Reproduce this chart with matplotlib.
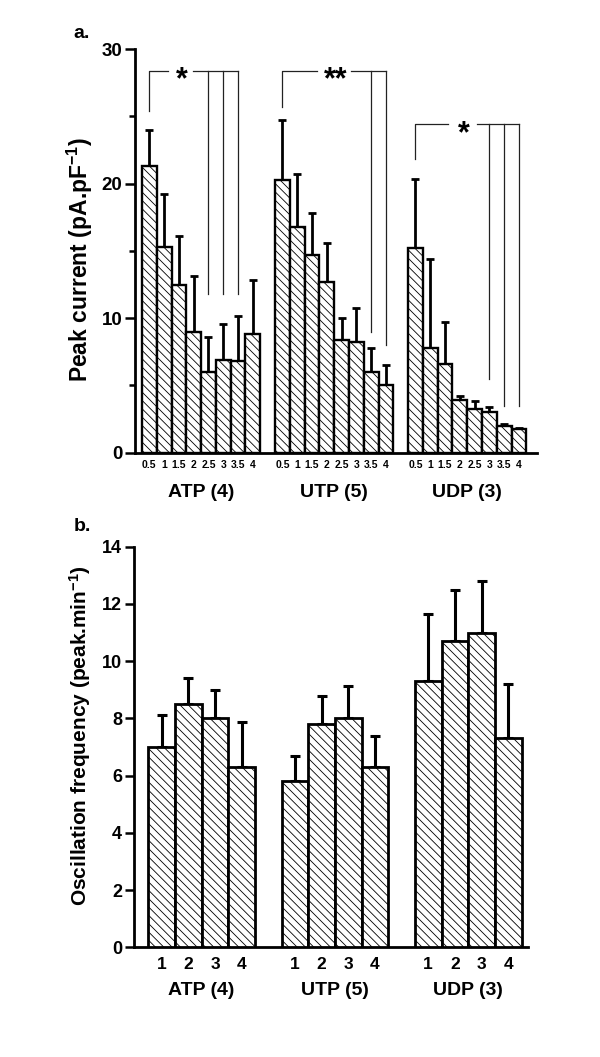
import numpy as np
import matplotlib
matplotlib.use("Agg")
import matplotlib.pyplot as plt

plt.rcParams['font.family'] = ['Liberation Sans', 'DejaVu Sans']
plt.rcParams['font.weight'] = 'bold'
plt.rcParams['hatch.linewidth'] = 0.6
plt.rcParams['mathtext.fontset'] = 'custom'
plt.rcParams['mathtext.rm'] = 'Liberation Sans:bold'
plt.rcParams['mathtext.bf'] = 'Liberation Sans:bold'
plt.rcParams['mathtext.default'] = 'bf'

# donnees
groupes = ["ATP (4)", "UTP (5)", "UDP (3)"]
doses = ["0.5", "1", "1.5", "2", "2.5", "3", "3.5", "4"]
essais = ["1", "2", "3", "4"]

# a. courant de pic (pA/pF)
pic_atp = [21.3, 15.3, 12.5, 9.0, 6.0, 6.9, 6.85, 8.8]
pic_atp_err = [2.7, 3.9, 3.6, 4.1, 2.6, 2.65, 3.3, 4.0]
pic_utp = [20.3, 16.8, 14.7, 12.7, 8.35, 8.2, 6.0, 5.0]
pic_utp_err = [4.45, 3.9, 3.1, 2.9, 1.65, 2.55, 1.8, 1.5]
pic_udp = [15.2, 7.8, 6.6, 3.9, 3.25, 3.0, 1.95, 1.75]
pic_udp_err = [5.15, 6.6, 3.15, 0.3, 0.6, 0.4, 0.2, 0.08]

# b. frequence d'oscillation (pic/min)
freq_atp = [7.0, 8.5, 8.0, 6.3]
freq_atp_err = [1.12, 0.91, 1.0, 1.58]
freq_utp = [5.8, 7.8, 8.0, 6.3]
freq_utp_err = [0.9, 1.0, 1.12, 1.1]
freq_udp = [9.3, 10.7, 11.0, 7.3]
freq_udp_err = [2.35, 1.8, 1.8, 1.9]

# crochets de significativite
sig_barre_ref = [0, 9, 18]
sig_barres = [[4, 5, 6], [15, 16], [23, 24, 25]]
sig_haut = [28.4, 28.4, 24.45]
sig_bas_ref = [25.4, 25.7, 21.8]
sig_bas = [[11.8, 11.8, 11.8], [9.0, 8.0], [5.5, 3.5, 3.5]]
sig_texte = ["*", "**", "*"]
sig_trou = [(1.28, 2.98), (11.35, 13.66), (20.17, 22.16)]

fig = plt.figure(figsize=(6.0, 10.57), dpi=100)

# ---------- panneau a ----------
ax1 = fig.add_axes([0.225, 0.5717, 0.6695, 0.3819])
series_a = [(pic_atp, pic_atp_err), (pic_utp, pic_utp_err), (pic_udp, pic_udp_err)]
pos_tout = []
for g, (vals, errs) in enumerate(series_a):
    x = g * 9 + np.arange(len(vals))
    pos_tout.extend(x)
    ax1.bar(x, vals, width=1.0, color='white', edgecolor='black',
            linewidth=1.7, hatch='\\\\\\\\', zorder=3)
    ax1.errorbar(x, vals, yerr=[np.zeros(len(errs)), errs], fmt='none',
                 ecolor='black', elinewidth=2.0, capsize=2.6, capthick=2.0, zorder=2)
    ax1.annotate(groupes[g], xy=(x.mean(), 0), xycoords=('data', 'axes fraction'),
                 xytext=(0, -28.5), textcoords='offset points',
                 ha='center', va='center', fontsize=14, fontweight='bold')

for k in range(3):
    xr = sig_barre_ref[k]
    t0, t1 = sig_trou[k]
    h = sig_haut[k]
    c = '#222222'
    ax1.plot([xr, xr, t0], [sig_bas_ref[k], h, h], color=c, lw=0.9, clip_on=False, zorder=4)
    ax1.plot([t1, sig_barres[k][-1]], [h, h], color=c, lw=0.9, clip_on=False, zorder=4)
    for xb, yb in zip(sig_barres[k], sig_bas[k]):
        ax1.plot([xb, xb], [yb, h], color=c, lw=0.9, clip_on=False, zorder=4)
    ax1.text((t0 + t1) / 2 + 0.1, h - 0.75, sig_texte[k], ha='center', va='center',
             fontsize=22, fontweight='bold')

ax1.set_xlim(-0.97, 26.2)
ax1.set_ylim(0, 30)
ax1.set_xticks(pos_tout)
ax1.set_xticklabels(doses * 3, fontsize=7.5, fontweight='bold')
ax1.tick_params(axis='x', length=0, pad=5.5)
ax1.set_yticks([0, 10, 20, 30])
ax1.set_yticks([5, 15, 25], minor=True)
ax1.tick_params(axis='y', which='major', length=7, width=1.8, labelsize=13.5, pad=2)
ax1.tick_params(axis='y', which='minor', length=4, width=1.8)
for s in ['top', 'right']:
    ax1.spines[s].set_visible(False)
for s in ['left', 'bottom']:
    ax1.spines[s].set_linewidth(2.0)

# ---------- panneau b ----------
ax2 = fig.add_axes([0.2233, 0.1036, 0.657, 0.3792])
series_b = [(freq_atp, freq_atp_err), (freq_utp, freq_utp_err), (freq_udp, freq_udp_err)]
pos_tout = []
for g, (vals, errs) in enumerate(series_b):
    x = g * 5 + np.arange(len(vals))
    pos_tout.extend(x)
    ax2.bar(x, vals, width=1.0, color='white', edgecolor='black',
            linewidth=2.0, hatch='\\\\\\\\', zorder=3)
    ax2.errorbar(x, vals, yerr=[np.zeros(len(errs)), errs], fmt='none',
                 ecolor='black', elinewidth=2.2, capsize=3.6, capthick=2.2, zorder=2)
    ax2.annotate(groupes[g], xy=(x.mean(), 0), xycoords=('data', 'axes fraction'),
                 xytext=(0, -31), textcoords='offset points',
                 ha='center', va='center', fontsize=14, fontweight='bold')

ax2.set_xlim(-1.04, 13.75)
ax2.set_ylim(0, 14)
ax2.set_xticks(pos_tout)
ax2.set_xticklabels(essais * 3, fontsize=12.5, fontweight='bold')
ax2.tick_params(axis='x', length=0, pad=7)
ax2.set_yticks(np.arange(0, 15, 2))
ax2.tick_params(axis='y', length=6.5, width=1.8, labelsize=13, pad=2)
for s in ['top', 'right']:
    ax2.spines[s].set_visible(False)
for s in ['left', 'bottom']:
    ax2.spines[s].set_linewidth(2.0)

# titres des axes et lettres
fig.text(80 / 600, 1 - 260 / 1057, "Peak current (pA.pF$^{-1}$)", rotation=90,
         ha='center', va='center', fontsize=16.5, fontweight='bold')
fig.text(80 / 600, 1 - 736 / 1057, "Oscillation frequency (peak.min$^{-1}$)", rotation=90,
         ha='center', va='center', fontsize=15, fontweight='bold')
fig.text(82 / 600, 1 - 33 / 1057, "a.", ha='center', va='center', fontsize=14, fontweight='bold')
fig.text(82 / 600, 1 - 526 / 1057, "b.", ha='center', va='center', fontsize=14, fontweight='bold')

for lab in ax1.get_yticklabels() + ax2.get_yticklabels():
    lab.set_fontweight('bold')

fig.savefig("out.png", dpi=100)
